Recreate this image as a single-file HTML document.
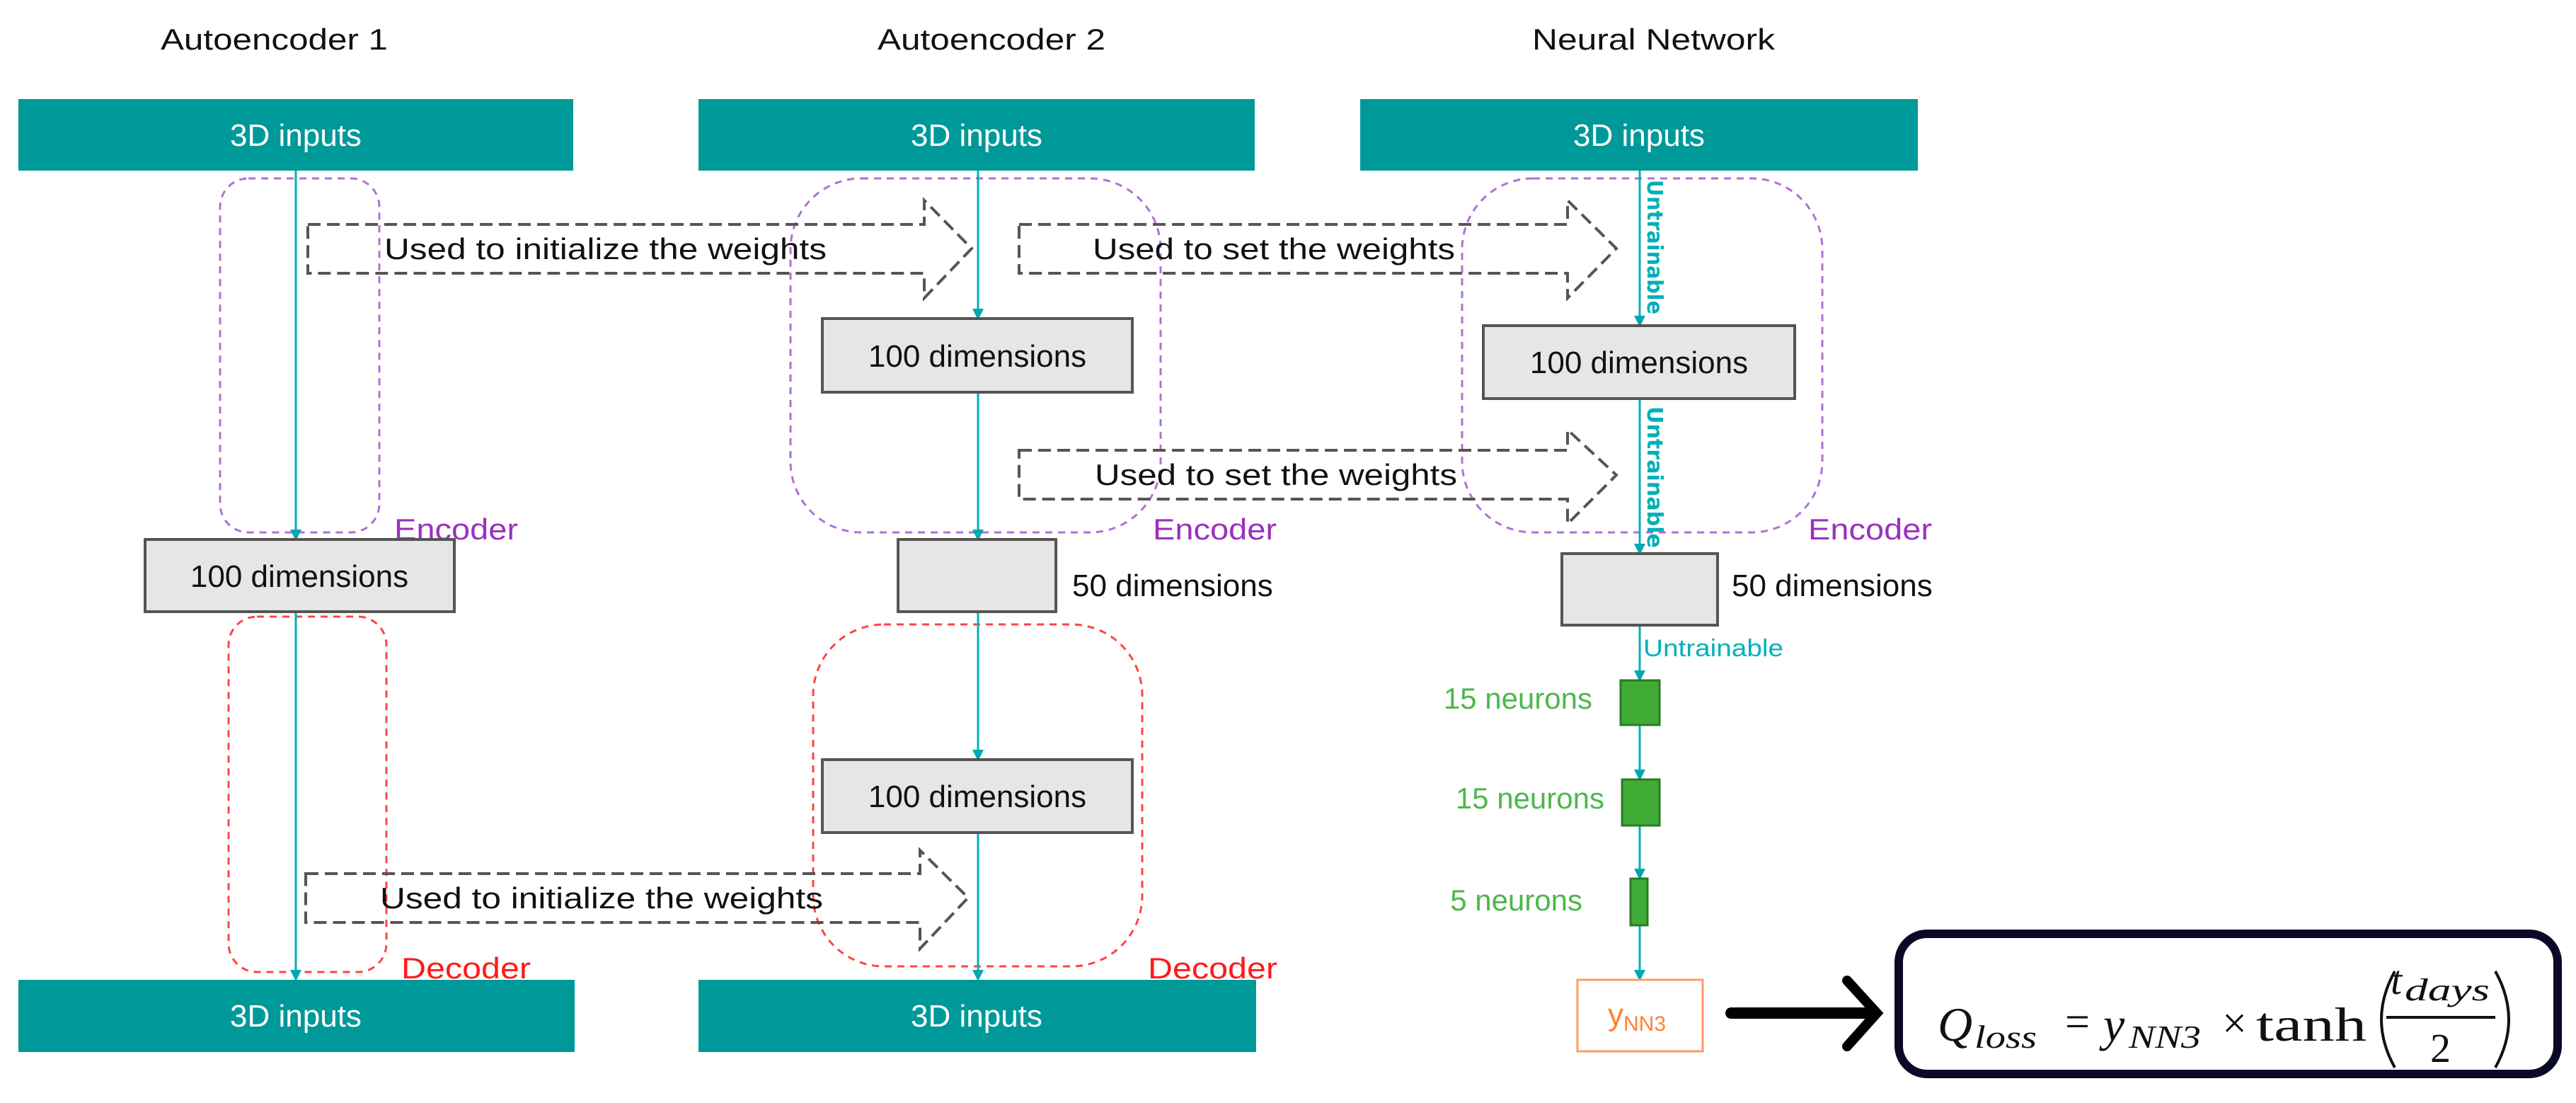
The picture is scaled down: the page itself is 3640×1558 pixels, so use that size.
<!DOCTYPE html>
<html><head><meta charset="utf-8"><style>html,body{margin:0;padding:0;background:#fff}svg{display:block}</style></head>
<body>
<svg width="3640" height="1558" viewBox="0 0 3640 1558" xmlns="http://www.w3.org/2000/svg">
<g font-family="Liberation Sans Narrow, Liberation Sans, sans-serif">
<text x="227" y="70" font-size="42" fill="#111" textLength="321" lengthAdjust="spacingAndGlyphs">Autoencoder 1</text>
<text x="1240" y="70" font-size="42" fill="#111" textLength="322" lengthAdjust="spacingAndGlyphs">Autoencoder 2</text>
<text x="2165" y="70" font-size="42" fill="#111" textLength="343" lengthAdjust="spacingAndGlyphs">Neural Network</text>
</g>
<g fill="#009999">
<rect x="26" y="140" width="784" height="101"/>
<rect x="987" y="140" width="786" height="101"/>
<rect x="1922" y="140" width="788" height="101"/>
<rect x="26" y="1384" width="786" height="102"/>
<rect x="987" y="1384" width="788" height="102"/>
</g>
<g font-family="Liberation Sans, sans-serif" font-size="44" fill="#fff" text-anchor="middle">
<text x="418" y="206">3D inputs</text>
<text x="1380" y="206">3D inputs</text>
<text x="2316" y="206">3D inputs</text>
<text x="418" y="1450">3D inputs</text>
<text x="1380" y="1450">3D inputs</text>
</g>
<g fill="none" stroke-width="3">
<rect x="311" y="252" width="225" height="500" rx="40" stroke="#b070d8" stroke-dasharray="10 8"/>
<rect x="1117" y="252" width="523" height="500" rx="100" stroke="#b070d8" stroke-dasharray="10 8"/>
<rect x="2066" y="252" width="509" height="500" rx="100" stroke="#b070d8" stroke-dasharray="10 8"/>
<rect x="323" y="871" width="223" height="502" rx="40" stroke="#ff4444" stroke-dasharray="10 8"/>
<rect x="1149" y="882" width="465" height="483" rx="100" stroke="#ff4444" stroke-dasharray="10 8"/>
</g>
<g font-family="Liberation Sans Narrow, Liberation Sans, sans-serif" font-size="42">
<text x="557" y="762" fill="#9b30c0" textLength="175" lengthAdjust="spacingAndGlyphs">Encoder</text>
<text x="1629" y="762" fill="#9b30c0" textLength="175" lengthAdjust="spacingAndGlyphs">Encoder</text>
<text x="2555" y="762" fill="#9b30c0" textLength="175" lengthAdjust="spacingAndGlyphs">Encoder</text>
<text x="567" y="1382" fill="#ff1a1a" textLength="183" lengthAdjust="spacingAndGlyphs">Decoder</text>
<text x="1622" y="1382" fill="#ff1a1a" textLength="183" lengthAdjust="spacingAndGlyphs">Decoder</text>
</g>
<g stroke="#00b0b8" stroke-width="3" fill="none">
<line x1="418" y1="241" x2="418" y2="750"/>
<line x1="418" y1="864" x2="418" y2="1372"/>
<line x1="1382" y1="241" x2="1382" y2="438"/>
<line x1="1382" y1="554" x2="1382" y2="750"/>
<line x1="1382" y1="864" x2="1382" y2="1061"/>
<line x1="1382" y1="1176" x2="1382" y2="1372"/>
<line x1="2317" y1="241" x2="2317" y2="448"/>
<line x1="2317" y1="563" x2="2317" y2="770"/>
<line x1="2317" y1="883" x2="2317" y2="949"/>
<line x1="2317" y1="1024" x2="2317" y2="1089"/>
<line x1="2317" y1="1166" x2="2317" y2="1229"/>
<line x1="2317" y1="1307" x2="2317" y2="1372"/>
</g>
<g fill="#00a8b0">
<path d="M410 748 L426 748 L418 764 Z"/>
<path d="M410 1370 L426 1370 L418 1386 Z"/>
<path d="M1374 436 L1390 436 L1382 452 Z"/>
<path d="M1374 748 L1390 748 L1382 764 Z"/>
<path d="M1374 1059 L1390 1059 L1382 1075 Z"/>
<path d="M1374 1370 L1390 1370 L1382 1386 Z"/>
<path d="M2309 446 L2325 446 L2317 462 Z"/>
<path d="M2309 768 L2325 768 L2317 784 Z"/>
<path d="M2309 947 L2325 947 L2317 963 Z"/>
<path d="M2309 1087 L2325 1087 L2317 1103 Z"/>
<path d="M2309 1227 L2325 1227 L2317 1243 Z"/>
<path d="M2309 1370 L2325 1370 L2317 1386 Z"/>
</g>
<g fill="#e6e6e6" stroke="#555" stroke-width="4">
<rect x="205" y="762" width="437" height="102"/>
<rect x="1162" y="450" width="438" height="104"/>
<rect x="1269" y="762" width="223" height="102"/>
<rect x="1162" y="1073" width="438" height="103"/>
<rect x="2096" y="460" width="440" height="103"/>
<rect x="2207" y="782" width="220" height="101"/>
</g>
<g font-family="Liberation Sans, sans-serif" font-size="44" fill="#111">
<text x="423" y="829" text-anchor="middle">100 dimensions</text>
<text x="1381" y="518" text-anchor="middle">100 dimensions</text>
<text x="1381" y="1140" text-anchor="middle">100 dimensions</text>
<text x="2316" y="527" text-anchor="middle">100 dimensions</text>
<text x="1515" y="842">50 dimensions</text>
<text x="2447" y="842">50 dimensions</text>
</g>
<g font-family="DejaVu Sans, sans-serif" font-size="30" fill="#00b0b8" font-weight="bold">
<text transform="translate(2328,254) rotate(90)" textLength="190" lengthAdjust="spacingAndGlyphs">Untrainable</text>
<text transform="translate(2328,574) rotate(90)" textLength="200" lengthAdjust="spacingAndGlyphs">Untrainable</text>
<text x="2322" y="927" font-weight="normal" font-family="Liberation Sans Narrow, Liberation Sans, sans-serif" font-size="34" textLength="198" lengthAdjust="spacingAndGlyphs">Untrainable</text>
</g>
<g fill="none" stroke="#555" stroke-width="4" stroke-dasharray="18 9">
<path d="M435 317 L1306 317 L1306 283 L1373 351 L1306 421 L1306 386 L435 386 Z"/>
<path d="M1440 317 L2215 317 L2215 283 L2284 351 L2215 421 L2215 386 L1440 386 Z"/>
<path d="M1440 636 L2215 636 L2215 607 L2284 671 L2215 740 L2215 705 L1440 705 Z"/>
<path d="M432 1234 L1300 1234 L1300 1201 L1368 1268 L1300 1340 L1300 1303 L432 1303 Z"/>
</g>
<g font-family="Liberation Sans Narrow, Liberation Sans, sans-serif" font-size="42" fill="#111">
<text x="543" y="366" textLength="625" lengthAdjust="spacingAndGlyphs">Used to initialize the weights</text>
<text x="1544" y="366" textLength="512" lengthAdjust="spacingAndGlyphs">Used to set the weights</text>
<text x="1547" y="685" textLength="512" lengthAdjust="spacingAndGlyphs">Used to set the weights</text>
<text x="537" y="1283" textLength="626" lengthAdjust="spacingAndGlyphs">Used to initialize the weights</text>
</g>
<g fill="#3fac35" stroke="#2a7a25" stroke-width="3">
<rect x="2290" y="961" width="55" height="63"/>
<rect x="2292" y="1101" width="53" height="65"/>
<rect x="2304" y="1241" width="24" height="66"/>
</g>
<g font-family="Liberation Sans, sans-serif" font-size="42" fill="#4cb84a" text-anchor="end">
<text x="2250" y="1001">15 neurons</text>
<text x="2267" y="1142">15 neurons</text>
<text x="2236" y="1286">5 neurons</text>
</g>
<rect x="2229" y="1384" width="177" height="101" fill="#fff" stroke="#ff9966" stroke-width="3"/>
<text x="2272" y="1448" font-family="Liberation Sans, sans-serif" font-size="44" fill="#ff8030">y<tspan font-size="30" dy="8">NN3</tspan></text>
<line x1="2446" y1="1431" x2="2640" y2="1431" stroke="#000" stroke-width="16" stroke-linecap="round"/>
<path d="M2610 1385 L2652 1431 L2610 1478" fill="none" stroke="#000" stroke-width="14" stroke-linecap="round"/>
<rect x="2683" y="1319" width="931" height="198" rx="40" fill="#fff" stroke="#0a0a28" stroke-width="12"/>
<g font-family="Liberation Serif, serif" fill="#111">
<text x="2738" y="1470" font-size="68" font-style="italic">Q</text>
<text x="2790" y="1480" font-size="46" font-style="italic" textLength="88" lengthAdjust="spacingAndGlyphs">loss</text>
<text x="2918" y="1464" font-size="62">=</text>
<text x="2972" y="1470" font-size="68" font-style="italic">y</text>
<text x="3008" y="1480" font-size="46" font-style="italic" textLength="102" lengthAdjust="spacingAndGlyphs">NN3</text>
<text x="3140" y="1466" font-size="62">×</text>
<text x="3188" y="1470" font-size="68" textLength="156" lengthAdjust="spacingAndGlyphs">tanh</text>
<path d="M3384 1372 Q3346 1440 3384 1508" fill="none" stroke="#111" stroke-width="4"/>
<path d="M3526 1372 Q3564 1440 3526 1508" fill="none" stroke="#111" stroke-width="4"/>
<text x="3378" y="1404" font-size="58" font-style="italic">t</text>
<text x="3398" y="1413" font-size="44" font-style="italic" textLength="120" lengthAdjust="spacingAndGlyphs">days</text>
<line x1="3372" y1="1437" x2="3526" y2="1437" stroke="#111" stroke-width="4"/>
<text x="3434" y="1500" font-size="58">2</text>
</g>
</svg>
</body></html>
